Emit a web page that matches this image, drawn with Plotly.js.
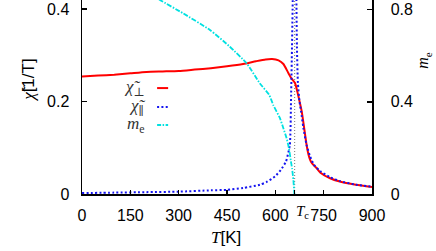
<!DOCTYPE html>
<html>
<head>
<meta charset="utf-8">
<script src="https://cdn.plot.ly/plotly-3.0.1.min.js"></script>
<style>html,body{margin:0;padding:0;background:#fff;}#chart{width:436px;height:251px;}</style>
</head>
<body>
<div id="chart"></div>
<script>
// --- data ---
var Tc = 660;

var tPerp   = [0, 50, 100, 150, 200, 250, 300, 350, 400, 450, 500, 540, 570, 590, 610, 625, 640, 650, 661, 668, 674, 682, 690, 697, 703, 708, 713, 728, 740, 770, 800, 850, 900];
var chiPerp = [0.254, 0.256, 0.258, 0.261, 0.264, 0.265, 0.266, 0.269, 0.272, 0.276, 0.281, 0.287, 0.291, 0.292, 0.289, 0.281, 0.262, 0.250, 0.240, 0.222, 0.204, 0.178, 0.140, 0.106, 0.085, 0.074, 0.067, 0.056, 0.046, 0.034, 0.027, 0.020, 0.015];

var tParLow   = [0, 100, 200, 300, 400, 450, 500, 552, 573, 599, 617, 633, 645, 649, 654, 656];
var chiParLow = [0.002, 0.003, 0.004, 0.005, 0.008, 0.009, 0.013, 0.020, 0.026, 0.038, 0.052, 0.070, 0.106, 0.214, 0.42, 0.70];
var tParHigh   = [663, 665, 667, 670, 675, 680, 687, 697, 708, 720, 740, 770, 800, 850, 900];
var chiParHigh = [0.70, 0.45, 0.32, 0.24, 0.20, 0.178, 0.143, 0.106, 0.081, 0.063, 0.049, 0.036, 0.028, 0.020, 0.016];

var tM = [0, 100, 200, 242, 314, 397, 459, 511, 552, 581, 594, 614, 625, 635, 642, 648, 652, 656, 659];
var mE = [1.0, 0.96, 0.88, 0.842, 0.784, 0.712, 0.639, 0.567, 0.48, 0.43, 0.385, 0.33, 0.285, 0.242, 0.20, 0.145, 0.11, 0.06, 0.0];

var xTickVals = [0, 150, 300, 450, 600, 750, 900];
var xTickText = ['0', '150', '300', '450', '600', '750', '900'];
var yTickVals = [0, 0.2, 0.4];
var yTickText = ['0', '0.2', '0.4'];
var y2TickVals = [0, 0.4, 0.8];
var y2TickText = ['0', '0.4', '0.8'];

var legendNames = ['<i>χ̃</i><sub>⊥</sub>', '<i>χ̃</i><sub>∥</sub>', '<i>m</i><sub>e</sub>'];

// --- styles ---
var RED = 'rgb(255,0,0)', BLUE = 'rgb(20,20,240)', CYAN = 'rgb(0,225,225)';
var SERIF = 'Liberation Serif, DejaVu Serif, serif';
var SANS = 'Liberation Sans, Arial, sans-serif';
function serifIt(s) { return '<span style="font-family:Liberation Serif"><i>' + s + '</i></span>'; }

var traces = [
  {x: tPerp, y: chiPerp, mode: 'lines', line: {color: RED, width: 2, shape: 'spline', smoothing: 0.6}, yaxis: 'y', showlegend: false, hoverinfo: 'skip'},
  {x: tParLow, y: chiParLow, mode: 'lines', line: {color: BLUE, width: 2, dash: '2px,2.3px', shape: 'spline', smoothing: 0.5}, yaxis: 'y', showlegend: false, hoverinfo: 'skip'},
  {x: tParHigh, y: chiParHigh, mode: 'lines', line: {color: BLUE, width: 2, dash: '2px,2.3px', shape: 'spline', smoothing: 0.5}, yaxis: 'y', showlegend: false, hoverinfo: 'skip'},
  {x: tM, y: mE, mode: 'lines', line: {color: CYAN, width: 1.8, dash: '5px,1.5px,1.5px,1.5px', shape: 'spline', smoothing: 0.5}, yaxis: 'y2', showlegend: false, hoverinfo: 'skip'}
];

var xVals = xTickVals.concat([Tc]);
var xText = xTickText.concat(['']);

var axisCommon = {showline: true, linecolor: '#000', linewidth: 1.5, ticks: 'inside', tickcolor: '#000', tickwidth: 1.5, showgrid: false, zeroline: false, tickfont: {family: SANS, size: 16, color: '#000'}, fixedrange: true};

var legendColors = [RED, BLUE, CYAN];
var legendDash = ['solid', '2px,2.3px', '4px,1.5px,1.5px,1.5px'];
var legendY = [0.546, 0.448, 0.356];

var annotations = [
  {text: serifIt('T') + '[K]', xref: 'paper', yref: 'paper', x: 0.497, y: -0.225, xanchor: 'center', yanchor: 'middle', showarrow: false, font: {family: SANS, size: 17, color: '#000'}},
  {text: serifIt('χ̃') + '[1/T]', xref: 'paper', yref: 'paper', x: -0.183, y: 0.588, xanchor: 'center', yanchor: 'middle', textangle: -90, showarrow: false, font: {family: SANS, size: 17, color: '#000'}},
  {text: '<i>m</i><sub>e</sub>', xref: 'paper', yref: 'paper', x: 1.178, y: 0.69, xanchor: 'center', yanchor: 'middle', textangle: -90, showarrow: false, font: {family: SERIF, size: 16, color: '#000'}},
  {text: '<i>T</i><sub>c</sub>', xref: 'x', yref: 'paper', x: Tc, y: -0.095, xanchor: 'left', yanchor: 'middle', xshift: -1, showarrow: false, font: {family: SERIF, size: 15, color: '#000'}}
];
var shapes = [
  {type: 'line', xref: 'x', yref: 'paper', x0: Tc, x1: Tc, y0: 0, y1: 1, line: {color: 'rgb(120,120,120)', width: 1, dash: '1px,2px'}, layer: 'below'}
];
for (var i = 0; i < legendNames.length; i++) {
  annotations.push({text: legendNames[i], xref: 'paper', yref: 'paper', x: 0.225, y: legendY[i], xanchor: 'right', yanchor: 'middle', showarrow: false, font: {family: SERIF, size: 17, color: '#333'}});
  shapes.push({type: 'line', xref: 'paper', yref: 'paper', x0: 0.259, x1: 0.297, y0: legendY[i], y1: legendY[i], line: {color: legendColors[i], width: 2, dash: legendDash[i]}});
}

var layout = {
  width: 436, height: 251,
  margin: {l: 82, r: 64, t: 0, b: 57, pad: 0},
  paper_bgcolor: '#fff', plot_bgcolor: '#fff',
  showlegend: false,
  xaxis: Object.assign({}, axisCommon, {range: [0, 900], tickmode: 'array', tickvals: xVals, ticktext: xText, ticklen: 4, ticklabelstandoff: 6}),
  yaxis: Object.assign({}, axisCommon, {range: [0, 0.4194], tickmode: 'array', tickvals: yTickVals, ticktext: yTickText, ticklen: 5, ticklabelstandoff: 8}),
  yaxis2: Object.assign({}, axisCommon, {range: [0, 0.842], overlaying: 'y', side: 'right', tickmode: 'array', tickvals: y2TickVals, ticktext: y2TickText, ticklen: 5, ticklabelstandoff: 14}),
  annotations: annotations,
  shapes: shapes
};

Plotly.newPlot('chart', traces, layout, {staticPlot: true, displayModeBar: false});
</script>
</body>
</html>
